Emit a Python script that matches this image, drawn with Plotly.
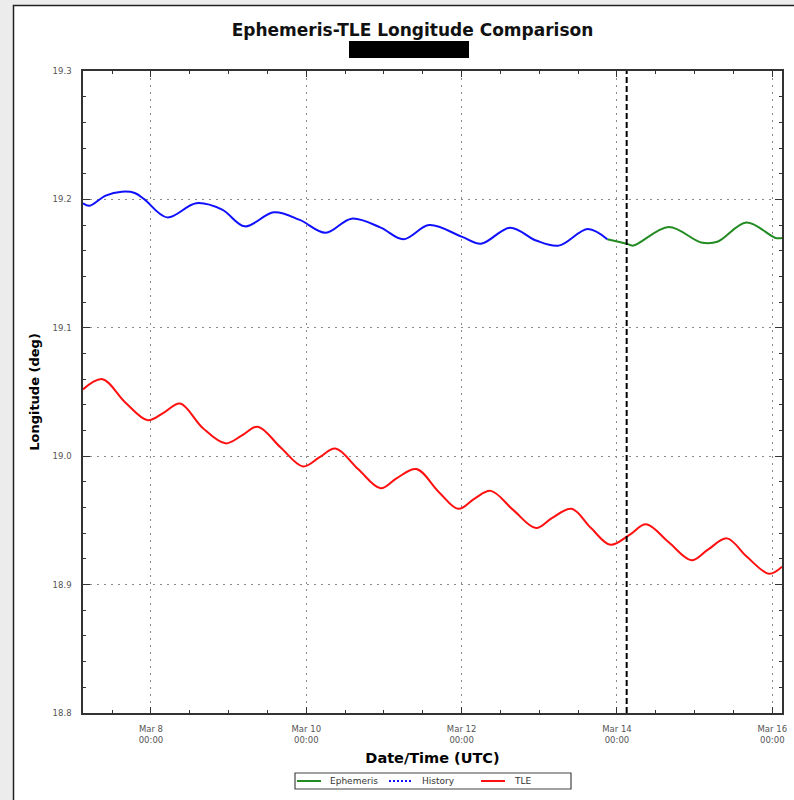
import plotly.graph_objects as go

# --- History (observed) longitude, degrees ---
history_time = [
    "2021-03-07 03:00", "2021-03-07 05:00", "2021-03-07 10:00", "2021-03-07 15:00",
    "2021-03-07 19:00", "2021-03-07 22:00", "2021-03-08 05:00", "2021-03-08 14:00",
    "2021-03-08 22:00", "2021-03-09 05:00", "2021-03-09 14:00", "2021-03-09 22:00",
    "2021-03-10 06:00", "2021-03-10 14:00", "2021-03-10 23:00", "2021-03-11 06:00",
    "2021-03-11 14:00", "2021-03-12 00:00", "2021-03-12 06:00", "2021-03-12 15:00",
    "2021-03-12 23:00", "2021-03-13 06:00", "2021-03-13 15:00", "2021-03-13 21:00",
]
history_lon = [
    19.197, 19.195, 19.203, 19.206,
    19.205, 19.200, 19.186, 19.197,
    19.192, 19.179, 19.190, 19.184,
    19.174, 19.185, 19.178, 19.169,
    19.180, 19.171, 19.1655, 19.178,
    19.168, 19.164, 19.177, 19.169,
]

# --- Ephemeris (predicted) longitude, degrees ---
ephem_time = [
    "2021-03-13 21:00", "2021-03-14 03:00", "2021-03-14 05:00", "2021-03-14 16:00",
    "2021-03-15 02:00", "2021-03-15 07:00", "2021-03-15 16:00", "2021-03-16 01:00",
    "2021-03-16 03:00",
]
ephem_lon = [
    19.169, 19.1655, 19.164, 19.1785,
    19.1665, 19.167, 19.182, 19.170,
    19.170,
]

# --- TLE-derived longitude, degrees ---
tle_time = [
    "2021-03-07 03:00", "2021-03-07 09:00", "2021-03-07 16:00", "2021-03-07 23:00",
    "2021-03-08 04:00", "2021-03-08 09:00", "2021-03-08 16:00", "2021-03-08 23:00",
    "2021-03-09 04:00", "2021-03-09 09:00", "2021-03-09 16:00", "2021-03-09 23:00",
    "2021-03-10 04:00", "2021-03-10 09:00", "2021-03-10 16:00", "2021-03-10 23:00",
    "2021-03-11 04:00", "2021-03-11 10:00", "2021-03-11 17:00", "2021-03-11 23:00",
    "2021-03-12 04:00", "2021-03-12 09:00", "2021-03-12 16:00", "2021-03-12 23:00",
    "2021-03-13 04:00", "2021-03-13 10:00", "2021-03-13 16:00", "2021-03-13 22:00",
    "2021-03-14 04:00", "2021-03-14 09:00", "2021-03-14 16:00", "2021-03-14 23:00",
    "2021-03-15 04:00", "2021-03-15 10:00", "2021-03-15 16:00", "2021-03-15 23:00",
    "2021-03-16 03:00",
]
tle_lon = [
    19.052, 19.060, 19.042, 19.028,
    19.034, 19.041, 19.022, 19.010,
    19.016, 19.023, 19.007, 18.992,
    18.999, 19.006, 18.990, 18.975,
    18.983, 18.990, 18.972, 18.959,
    18.967, 18.973, 18.958, 18.944,
    18.952, 18.959, 18.944, 18.931,
    18.939, 18.947, 18.933, 18.919,
    18.927, 18.936, 18.922, 18.9085,
    18.914,
]

# Current epoch marker and axis extents
epoch_time = "2021-03-14 03:00"
x_range = ["2021-03-07 03:00", "2021-03-16 03:00"]
y_range = [18.8, 19.3]

# Axis tick labels
x_tickvals = ["2021-03-08", "2021-03-10", "2021-03-12", "2021-03-14", "2021-03-16"]
x_ticktext = ["Mar 8<br>00:00", "Mar 10<br>00:00", "Mar 12<br>00:00",
              "Mar 14<br>00:00", "Mar 16<br>00:00"]
y_tickvals = [18.8, 18.9, 19.0, 19.1, 19.2, 19.3]
y_ticktext = ["18.8", "18.9", "19.0", "19.1", "19.2", "19.3"]

# Legend entries: name, colour, dash of the sample line
legend_names = ["Ephemeris", "History", "TLE"]

FONT = "DejaVu Sans"
GREEN = "#228b22"
BLUE = "#1010ff"
RED = "#ff1010"
legend_colors = [GREEN, BLUE, RED]
legend_dashes = ["solid", "2px,2px", "solid"]

fig = go.Figure()

fig.add_trace(go.Scatter(
    x=ephem_time, y=ephem_lon, name="Ephemeris", mode="lines",
    line=dict(color=GREEN, width=2, shape="spline", smoothing=1.0),
))
fig.add_trace(go.Scatter(
    x=history_time, y=history_lon, name="History", mode="lines",
    line=dict(color=BLUE, width=2, shape="spline", smoothing=1.0),
))
fig.add_trace(go.Scatter(
    x=tle_time, y=tle_lon, name="TLE", mode="lines",
    line=dict(color=RED, width=2, shape="spline", smoothing=1.0),
))

# epoch marker
fig.add_shape(type="line", xref="x", yref="paper", x0=epoch_time, x1=epoch_time,
              y0=0, y1=1, line=dict(color="black", width=2, dash="6px,3px"))

# pixel -> paper conversion for the plot area (l=83, t=71, w=699, h=642)
def px_x(p):
    return (p - 83) / 699.0

def px_y(p):
    return (713 - p) / 642.0

# frame around the whole chart
fig.add_shape(type="rect", xref="paper", yref="paper", layer="below",
              x0=px_x(13.5), x1=px_x(820), y0=px_y(830), y1=px_y(5.5),
              fillcolor="white", line=dict(color="#222222", width=1.5))
# redacted subtitle
fig.add_shape(type="rect", xref="paper", yref="paper",
              x0=px_x(349), x1=px_x(469), y0=px_y(58), y1=px_y(41),
              fillcolor="black", line=dict(width=0))

# boxed legend below the axis title
fig.add_shape(type="rect", xref="paper", yref="paper",
              x0=px_x(295), x1=px_x(571), y0=px_y(789), y1=px_y(773),
              fillcolor="white", line=dict(color="#444444", width=1.2))
legend_left = 297
legend_step = 92
for i, (name, color, dash) in enumerate(zip(legend_names, legend_colors, legend_dashes)):
    x0 = legend_left + i * legend_step
    fig.add_shape(type="line", xref="paper", yref="paper",
                  x0=px_x(x0), x1=px_x(x0 + 24), y0=px_y(781), y1=px_y(781),
                  line=dict(color=color, width=2, dash=dash))
    fig.add_annotation(xref="paper", yref="paper", x=px_x(x0 + 31), y=px_y(781),
                       text=name, showarrow=False, xanchor="left", yanchor="middle",
                       font=dict(family=FONT, size=9, color="#333333"))

tickfont = dict(family=FONT, size=8.5, color="#555555")
grid = dict(showgrid=True, gridcolor="#8a8a8a", gridwidth=1, griddash="2px,5px")

fig.update_layout(
    width=794, height=800,
    margin=dict(l=83, r=12, t=71, b=87, autoexpand=False),
    paper_bgcolor="#ececec",
    plot_bgcolor="white",
    showlegend=False,
    font=dict(family=FONT, color="black"),
    title=dict(text="Ephemeris-TLE Longitude Comparison",
               font=dict(family=FONT, size=17, weight="bold", color="#111111"),
               x=412.5 / 794, xanchor="center", xref="container",
               y=1 - 30 / 800, yanchor="middle", yref="container"),
    xaxis=dict(
        type="date", range=x_range, tickvals=x_tickvals, ticktext=x_ticktext,
        ticks="inside", ticklen=6, tickwidth=1.3, tickcolor="#333333",
        minor=dict(dtick=12 * 3600 * 1000, tick0="2021-03-07", ticks="inside",
                   ticklen=3, tickwidth=1.3, tickcolor="#333333", showgrid=False),
        showline=True, linecolor="#333333", linewidth=1.5, mirror="ticks",
        tickfont=tickfont, ticklabelstandoff=7,
        title=dict(text="Date/Time (UTC)", standoff=9,
                   font=dict(family=FONT, size=14.5, weight="bold")),
        zeroline=False, automargin=False, **grid,
    ),
    xaxis2=dict(
        type="date", range=x_range, matches="x", overlaying="x", anchor="y",
        side="bottom", tickvals=x_tickvals,
        ticks="outside", ticklen=6, tickwidth=1.3, tickcolor="#333333",
        minor=dict(dtick=12 * 3600 * 1000, tick0="2021-03-07", ticks="outside",
                   ticklen=3, tickwidth=1.3, tickcolor="#333333", showgrid=False),
        showticklabels=False, showline=False, showgrid=False, zeroline=False,
        automargin=False,
    ),
    yaxis=dict(
        range=y_range, tickvals=y_tickvals, ticktext=y_ticktext,
        ticks="inside", ticklen=7, tickwidth=1.3, tickcolor="#333333",
        minor=dict(dtick=0.02, tick0=18.8, ticks="inside", ticklen=3,
                   tickwidth=1.3, tickcolor="#333333", showgrid=False),
        showline=True, linecolor="#333333", linewidth=1.5, mirror="ticks",
        tickfont=tickfont, ticklabelstandoff=8,
        title=dict(text="Longitude (deg)", standoff=10,
                   font=dict(family=FONT, size=13, weight="bold")),
        zeroline=False, automargin=False, **grid,
    ),
    yaxis2=dict(
        range=y_range, matches="y", overlaying="y", anchor="x", side="left",
        tickvals=y_tickvals,
        ticks="outside", ticklen=7, tickwidth=1.3, tickcolor="#333333",
        minor=dict(dtick=0.02, tick0=18.8, ticks="outside", ticklen=3,
                   tickwidth=1.3, tickcolor="#333333", showgrid=False),
        showticklabels=False, showline=False, showgrid=False, zeroline=False,
        automargin=False,
    ),
)

fig.write_html("out.html")
